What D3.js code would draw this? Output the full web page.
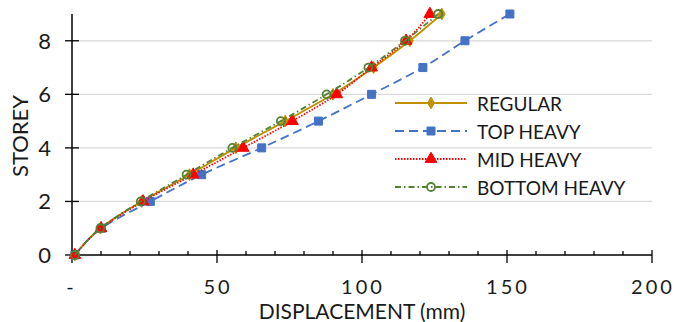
<!DOCTYPE html>
<html>
<head>
<meta charset="utf-8">
<script src="https://cdn.jsdelivr.net/npm/d3@7"></script>
<style>
  body { margin: 0; background: #fff; }
  text { font-family: Lato, "Open Sans", sans-serif; fill: #1a1a1a; }
</style>
</head>
<body>
<svg width="675" height="322"></svg>
<script>
const svg = d3.select('svg');

// storey levels and displacements (mm)
const storeys = [0, 1, 2, 3, 4, 5, 6, 7, 8, 9];
const regular = [1, 9.8, 24, 40.5, 56.5, 73.5, 90, 104, 116.5, 127.5];
const topHeavy = [1, 10.2, 27, 44.7, 65.4, 85, 103.3, 121, 135.5, 151];
const midHeavy = [1, 10, 24.5, 41.8, 59, 76, 91.3, 103.3, 115.2, 123.4];
const bottomHeavy = [1, 9.8, 23.7, 39.5, 55.3, 72, 87.8, 102.2, 114.8, 126.3];

const xTicks = [0, 50, 100, 150, 200];
const yTicks = [0, 2, 4, 6, 8];

const series = [
  {name: 'REGULAR', values: regular, color: '#BF9000', dash: null, marker: 'diamond'},
  {name: 'TOP HEAVY', values: topHeavy, color: '#4472C4', dash: '9,5', marker: 'square'},
  {name: 'MID HEAVY', values: midHeavy, color: '#FF0000', dash: '1.5,1.5', marker: 'triangle'},
  {name: 'BOTTOM HEAVY', values: bottomHeavy, color: '#548235', dash: '6,3,1.5,3', marker: 'circle'}
];

const margin = {left: 72, right: 23, top: 14, bottom: 67};
const width = 675, height = 322;

const x = d3.scaleLinear().domain([0, 200]).range([margin.left, width - margin.right]);
const y = d3.scaleLinear().domain([0, 9]).range([height - margin.bottom, margin.top]);

// gridlines
svg.append('g').selectAll('line').data(yTicks.filter(d => d > 0)).enter().append('line')
  .attr('x1', x(0)).attr('x2', x(200))
  .attr('y1', d => y(d)).attr('y2', d => y(d))
  .attr('stroke', '#d9d9d9').attr('stroke-width', 1.3);

// x axis
const xAxis = svg.append('g');
xAxis.append('line').attr('x1', x(0)).attr('x2', x(200))
  .attr('y1', y(0)).attr('y2', y(0)).attr('stroke', '#000').attr('stroke-width', 1.5);
xAxis.selectAll('.minor').data(d3.range(0, 201, 10)).enter().append('line')
  .attr('x1', d => x(d)).attr('x2', d => x(d))
  .attr('y1', d => d % 50 === 0 ? y(0) - 5 : y(0) - 4)
  .attr('y2', d => d % 50 === 0 ? y(0) + 8 : y(0))
  .attr('stroke', '#000').attr('stroke-width', 1.3);
xAxis.selectAll('text').data(xTicks).enter().append('text')
  .attr('x', d => d === 0 ? x(d) - 2 : x(d) + 1).attr('y', 294)
  .attr('text-anchor', 'middle')
  .attr('font-size', 20).attr('letter-spacing', d => d === 0 ? 0 : 3)
  .text(d => d === 0 ? '-' : d);

// y axis
const yAxis = svg.append('g');
yAxis.append('line').attr('x1', x(0)).attr('x2', x(0))
  .attr('y1', y(0)).attr('y2', y(9)).attr('stroke', '#000').attr('stroke-width', 1.5);
yAxis.selectAll('.tick').data(yTicks).enter().append('line')
  .attr('x1', x(0) - 7).attr('x2', x(0) + 7)
  .attr('y1', d => y(d)).attr('y2', d => y(d))
  .attr('stroke', '#000').attr('stroke-width', 1.3);
yAxis.selectAll('text').data(yTicks).enter().append('text')
  .attr('x', 51).attr('y', d => y(d) + 8)
  .attr('text-anchor', 'end').attr('font-size', 22)
  .text(d => d);

// axis titles
svg.append('text').attr('x', 362).attr('y', 319)
  .attr('text-anchor', 'middle').attr('font-size', 21)
  .text('DISPLACEMENT (mm)');
svg.append('text').attr('transform', 'translate(28,136) rotate(-90)')
  .attr('text-anchor', 'middle').attr('font-size', 22)
  .text('STOREY');

const markerPath = {
  diamond: d3.symbol().type(d3.symbolDiamond).size(40),
  square: d3.symbol().type(d3.symbolSquare).size(64),
  triangle: d3.symbol().type(d3.symbolTriangle).size(60),
  circle: d3.symbol().type(d3.symbolCircle).size(50)
};

const line = d3.line().x(d => x(d[0])).y(d => y(d[1])).curve(d3.curveMonotoneY);

function drawMarker(g, s, px, py) {
  g.append('path').attr('d', markerPath[s.marker]())
    .attr('transform', `translate(${px},${py})`)
    .attr('fill', s.marker === 'circle' ? '#fff' : s.color)
    .attr('fill-opacity', s.marker === 'circle' ? 0 : 1)
    .attr('stroke', s.color)
    .attr('stroke-width', s.marker === 'circle' ? 1.8 : 1);
}

series.forEach(s => {
  const pts = s.values.map((v, i) => [v, storeys[i]]);
  const g = svg.append('g');
  g.append('path').datum(pts).attr('d', line)
    .attr('fill', 'none').attr('stroke', s.color).attr('stroke-width', 1.8)
    .attr('stroke-dasharray', s.dash);
  pts.forEach(p => drawMarker(g, s, x(p[0]), y(p[1])));
});

// legend
const legend = svg.append('g');
series.forEach((s, i) => {
  const ly = 103 + i * 28;
  legend.append('line').attr('x1', 395).attr('x2', 467).attr('y1', ly).attr('y2', ly)
    .attr('stroke', s.color).attr('stroke-width', 1.8).attr('stroke-dasharray', s.dash);
  drawMarker(legend, s, 431, ly);
  legend.append('text').attr('x', 477).attr('y', ly + 8)
    .attr('font-size', 19).text(s.name);
});
</script>
</body>
</html>
